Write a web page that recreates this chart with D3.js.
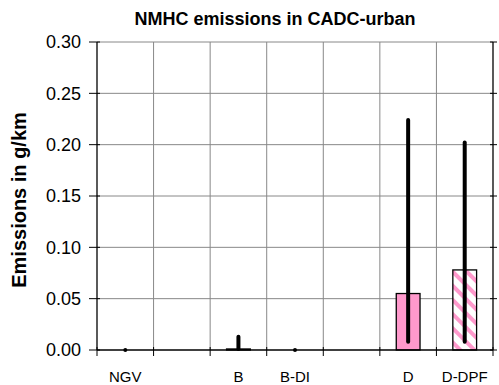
<!DOCTYPE html>
<html lang="en">
<head>
  <meta charset="UTF-8">
  <title>NMHC emissions</title>
  <script src="https://d3js.org/d3.v7.min.js"></script>
  <style>
    body { margin: 0; background: #fff; }
    text { font-family: "Liberation Sans", Arial, sans-serif; }
  </style>
</head>
<body>
  <div id="chart"></div>
  <script>
    const categories = ["NGV", "", "B", "B-DI", "", "D", "D-DPF"];
    const means = [0, null, 0.001, 0, null, 0.055, 0.078];
    const errLow = [0, null, 0.001, 0, null, 0.008, 0.008];
    const errHigh = [0, null, 0.013, 0, null, 0.224, 0.202];
    const hatched = [false, false, false, false, false, false, true];
    const yTicks = [0, 0.05, 0.10, 0.15, 0.20, 0.25, 0.30];

    const W = 499, H = 385;
    const margin = { top: 42, right: 6, bottom: 35, left: 97 };

    const svg = d3.select("#chart").append("svg")
      .attr("width", W).attr("height", H);

    const defs = svg.append("defs");
    const pat = defs.append("pattern")
      .attr("id", "hatch")
      .attr("patternUnits", "userSpaceOnUse")
      .attr("width", 10).attr("height", 10)
      .attr("patternTransform", "rotate(45)");
    pat.append("rect").attr("width", 10).attr("height", 10).attr("fill", "#fff");
    pat.append("rect").attr("width", 10).attr("height", 4).attr("fill", "#ff99cc");

    const x = d3.scaleBand()
      .domain(d3.range(categories.length))
      .range([margin.left, W - margin.right]);
    const y = d3.scaleLinear()
      .domain([0, 0.30])
      .range([H - margin.bottom, margin.top]);

    // grid
    svg.append("g").selectAll("line")
      .data(yTicks.slice(1))
      .join("line")
      .attr("x1", margin.left).attr("x2", W - margin.right)
      .attr("y1", d => y(d)).attr("y2", d => y(d))
      .attr("stroke", "#888").attr("stroke-width", 1);
    svg.append("g").selectAll("line")
      .data(d3.range(1, categories.length))
      .join("line")
      .attr("x1", d => x(d)).attr("x2", d => x(d))
      .attr("y1", y(0.30)).attr("y2", y(0))
      .attr("stroke", "#888").attr("stroke-width", 1);

    // bars
    const bw = x.bandwidth() * 0.42;
    const idx = d3.range(categories.length).filter(i => means[i] !== null);
    svg.append("g").selectAll("rect")
      .data(idx.filter(i => means[i] > 0))
      .join("rect")
      .attr("x", i => x(i) + (x.bandwidth() - bw) / 2)
      .attr("width", bw)
      .attr("y", i => y(means[i]))
      .attr("height", i => y(0) - y(means[i]))
      .attr("fill", i => hatched[i] ? "url(#hatch)" : "#ff99cc")
      .attr("stroke", "#000").attr("stroke-width", 1.3);

    // error bars
    svg.append("g").selectAll("line")
      .data(idx)
      .join("line")
      .attr("x1", i => x(i) + x.bandwidth() / 2)
      .attr("x2", i => x(i) + x.bandwidth() / 2)
      .attr("y1", i => y(errLow[i]))
      .attr("y2", i => y(errHigh[i]) - 0.01)
      .attr("stroke", "#000").attr("stroke-width", 4)
      .attr("stroke-linecap", "round");

    // axes frame
    svg.append("line")
      .attr("x1", margin.left).attr("x2", margin.left)
      .attr("y1", y(0.30)).attr("y2", y(0))
      .attr("stroke", "#000").attr("stroke-width", 1.3);
    svg.append("line")
      .attr("x1", W - margin.right).attr("x2", W - margin.right)
      .attr("y1", y(0.30)).attr("y2", y(0))
      .attr("stroke", "#000").attr("stroke-width", 1.3);
    svg.append("line")
      .attr("x1", margin.left).attr("x2", W - margin.right)
      .attr("y1", y(0)).attr("y2", y(0))
      .attr("stroke", "#000").attr("stroke-width", 1.3);

    // y ticks
    const yt = svg.append("g");
    yt.selectAll("line.l").data(yTicks).join("line")
      .attr("x1", margin.left - 8).attr("x2", margin.left + 3)
      .attr("y1", d => y(d)).attr("y2", d => y(d))
      .attr("stroke", "#000").attr("stroke-width", 1);
    yt.selectAll("line.r").data(yTicks).join("line")
      .attr("x1", W - margin.right - 3).attr("x2", W - margin.right + 4)
      .attr("y1", d => y(d)).attr("y2", d => y(d))
      .attr("stroke", "#000").attr("stroke-width", 1);
    yt.selectAll("text").data(yTicks).join("text")
      .attr("x", margin.left - 16)
      .attr("y", d => y(d))
      .attr("dy", "0.36em")
      .attr("text-anchor", "end")
      .attr("font-size", 18)
      .text(d => d.toFixed(2));

    // x ticks
    svg.append("g").selectAll("line")
      .data(d3.range(categories.length + 1))
      .join("line")
      .attr("x1", d => margin.left + d * x.bandwidth())
      .attr("x2", d => margin.left + d * x.bandwidth())
      .attr("y1", y(0) - 3).attr("y2", y(0) + 6)
      .attr("stroke", "#000").attr("stroke-width", 1);
    svg.append("g").selectAll("text")
      .data(categories)
      .join("text")
      .attr("x", (d, i) => x(i) + x.bandwidth() / 2)
      .attr("y", 382)
      .attr("text-anchor", "middle")
      .attr("font-size", 15)
      .text(d => d);

    // titles
    svg.append("text")
      .attr("x", 275).attr("y", 25)
      .attr("text-anchor", "middle")
      .attr("font-size", 18).attr("font-weight", "bold")
      .text("NMHC emissions in CADC-urban");
    svg.append("text")
      .attr("transform", `translate(26, 200) rotate(-90)`)
      .attr("text-anchor", "middle")
      .attr("font-size", 20).attr("font-weight", "bold")
      .text("Emissions in g/km");
  </script>
</body>
</html>
